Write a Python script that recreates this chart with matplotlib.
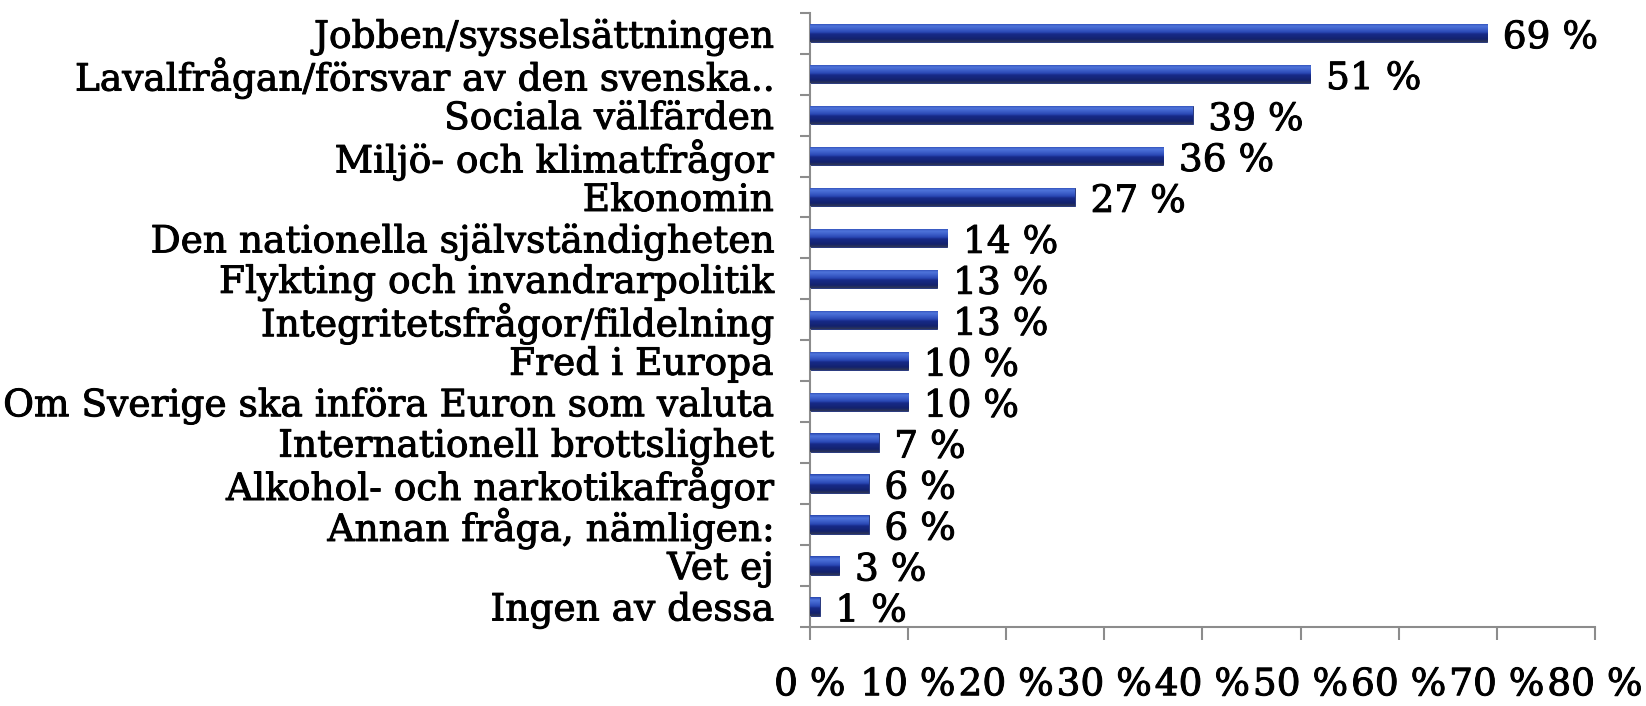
import matplotlib
matplotlib.use("Agg")
import matplotlib.pyplot as plt
import matplotlib.patheffects as pe
import numpy as np
from matplotlib.colors import LinearSegmentedColormap

categories = [
    "Jobben/sysselsättningen",
    "Lavalfrågan/försvar av den svenska..",
    "Sociala välfärden",
    "Miljö- och klimatfrågor",
    "Ekonomin",
    "Den nationella självständigheten",
    "Flykting och invandrarpolitik",
    "Integritetsfrågor/fildelning",
    "Fred i Europa",
    "Om Sverige ska införa Euron som valuta",
    "Internationell brottslighet",
    "Alkohol- och narkotikafrågor",
    "Annan fråga, nämligen:",
    "Vet ej",
    "Ingen av dessa",
]
values = [69, 51, 39, 36, 27, 14, 13, 13, 10, 10, 7, 6, 6, 3, 1]
xticks = [0, 10, 20, 30, 40, 50, 60, 70, 80]
xtick_labels = [f"{t} %" for t in xticks]

FONT = "DejaVu Serif"
FS = 27
STROKE = [pe.withStroke(linewidth=0.7, foreground="black")]

fig = plt.figure(figsize=(16.46, 7.06), dpi=100)
ax = fig.add_axes([0.492, 0.112, 0.477, 0.870])

y = np.arange(len(categories))
bars = ax.barh(y, values, height=0.45, color="#2340a8", edgecolor="#1a2a70", linewidth=0.6, zorder=2)

cmap = LinearSegmentedColormap.from_list(
    "barshade",
    [(0.0, "#2846b0"), (0.15, "#4f74da"), (0.3, "#3f62cc"), (0.48, "#2a48b4"),
     (0.58, "#172a88"), (0.85, "#13226e"), (1.0, "#2e3656")])
grad = np.linspace(0, 1, 64).reshape(-1, 1)
for b in bars:
    x0, y0 = b.get_x(), b.get_y()
    w, h = b.get_width(), b.get_height()
    im = ax.imshow(grad, extent=[x0, x0 + w, y0 + h, y0], aspect="auto",
                   cmap=cmap, zorder=3, interpolation="bilinear")
    im.set_clip_path(b)

ax.set_xlim(0, 80)
ax.set_ylim(len(categories) - 0.5, -0.5)

for yi, v in zip(y, values):
    ax.text(v + 1.6, yi + 0.12, f"{v} %", va="center", ha="left",
            fontsize=FS, family=FONT, color="black", zorder=4, path_effects=STROKE)

ax.set_yticks(y)
ax.set_yticklabels(categories, fontsize=FS, family=FONT)
ax.tick_params(axis="y", which="major", length=0, pad=26)
ax.set_yticks(np.arange(-0.5, len(categories), 1.0), minor=True)
ax.tick_params(axis="y", which="minor", length=7, width=1.5, color="#8c8c8c", direction="out")

ax.set_xticks(xticks)
ax.set_xticklabels(xtick_labels, fontsize=FS, family=FONT)
ax.tick_params(axis="x", length=9, width=1.5, color="#8c8c8c", direction="out", pad=20)

for lbl in ax.get_xticklabels() + ax.get_yticklabels():
    lbl.set_path_effects(STROKE)

for s in ["top", "right"]:
    ax.spines[s].set_visible(False)
for s in ["left", "bottom"]:
    ax.spines[s].set_color("#8c8c8c")
    ax.spines[s].set_linewidth(1.5)

fig.savefig("out.png", dpi=100, facecolor="white")
